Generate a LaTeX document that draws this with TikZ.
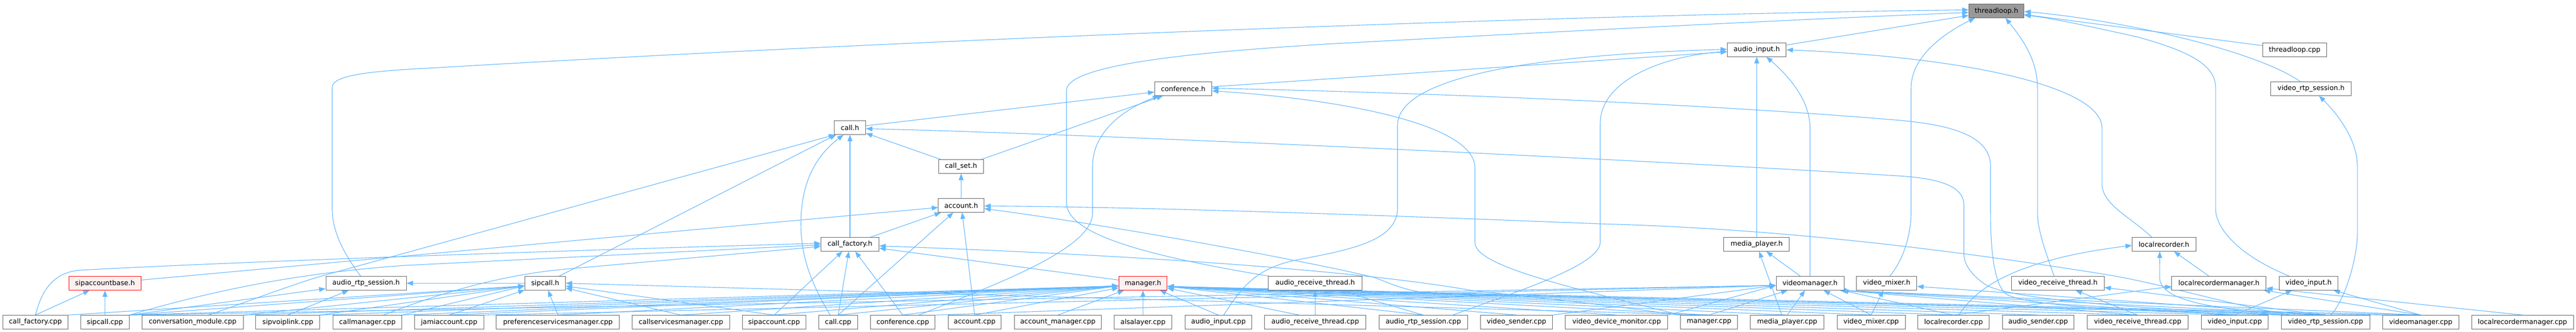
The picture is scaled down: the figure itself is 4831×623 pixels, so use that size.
\documentclass[tikz,border=0pt]{standalone}
\usepackage{fontspec}
\setmainfont{DejaVu Sans}
\usetikzlibrary{arrows.meta,calc}
\definecolor{edgec}{HTML}{63B8FF}
\definecolor{bordc}{HTML}{666666}
\definecolor{rootc}{HTML}{999999}
\definecolor{redfill}{HTML}{FFF0F0}
\pgfdeclarelayer{bglayer}
\pgfdeclarelayer{edgelayer}
\pgfsetlayers{bglayer,edgelayer,main}
\begin{document}
\begin{tikzpicture}[x=1pt,y=-1pt,
  box/.style={draw=bordc, fill=white, line width=1pt, minimum height=25.6pt, inner sep=0pt,
    font=\fontsize{12.8}{15}\selectfont, text=black},
  rootbox/.style={box, fill=rootc},
  redbox/.style={box, draw=red, fill=redfill},
  ed/.style={draw=edgec, line width=1.1pt, line join=round, -{Triangle[length=12pt,width=9pt]}}]
\useasboundingbox (0,0) rectangle (4831,623);
\begin{pgfonlayer}{bglayer}
\fill[white] (0,0) rectangle (4831,623);
\end{pgfonlayer}
% row 0
\node[rootbox, minimum width=103.4pt] (tlH) at (3744.1,20.5) {threadloop.h};
% row 1
\node[box, minimum width=110.7pt] (aiH) at (3294.55,93.5) {audio\_input.h};
\node[box, minimum width=119.1pt] (tlCpp) at (4303.45,93.5) {threadloop.cpp};
% row 2
\node[box, minimum width=107.1pt] (cfH) at (2219,166.5) {conference.h};
\node[box, minimum width=150.9pt] (vrsH) at (4334,166.5) {video\_rtp\_session.h};
% row 3
\node[box, minimum width=59pt] (callH) at (1594,239.5) {call.h};
% row 4
\node[box, minimum width=84.1pt] (csH) at (1802.4,312.5) {call\_set.h};
% row 5
\node[box, minimum width=85.5pt] (acH) at (1802.7,385.5) {account.h};
% row 6
\node[box, minimum width=109pt] (cfyH) at (1594,458.5) {call\_factory.h};
\node[box, minimum width=122.7pt] (mpH) at (3294.3,458.5) {media\_player.h};
\node[box, minimum width=119.6pt] (lrH) at (4058.3,458.5) {localrecorder.h};
% row 7
\node[redbox, minimum width=135pt] (sabH) at (197,531.5) {sipaccountbase.h};
\node[box, minimum width=151pt] (arsH) at (686.5,531.5) {audio\_rtp\_session.h};
\node[box, minimum width=76pt] (scH) at (1022.5,531.5) {sipcall.h};
\node[redbox, minimum width=90.4pt] (mgH) at (2143.5,531.5) {manager.h};
\node[box, minimum width=175.2pt] (artH) at (2466.4,531.5) {audio\_receive\_thread.h};
\node[box, minimum width=127pt] (vmH) at (3394.5,531.5) {videomanager.h};
\node[box, minimum width=113.2pt] (vmxH) at (3538.3,531.5) {video\_mixer.h};
\node[box, minimum width=173.6pt] (vrtH) at (3859.3,531.5) {video\_receive\_thread.h};
\node[box, minimum width=176.8pt] (lrmH) at (4161.3,531.5) {localrecordermanager.h};
\node[box, minimum width=110.6pt] (viH) at (4329.4,531.5) {video\_input.h};
% row 8
\node[box, minimum width=122.4pt] (c1) at (66.4,604.5) {call\_factory.cpp};
\node[box, minimum width=91pt] (c2) at (196.8,604.5) {sipcall.cpp};
\node[box, minimum width=189.6pt] (c3) at (361.3,604.5) {conversation\_module.cpp};
\node[box, minimum width=119.8pt] (c4) at (539.8,604.5) {sipvoiplink.cpp};
\node[box, minimum width=129.1pt] (c5) at (689,604.5) {callmanager.cpp};
\node[box, minimum width=129.7pt] (c6) at (842.3,604.5) {jamiaccount.cpp};
\node[box, minimum width=230.9pt] (c7) at (1046.3,604.5) {preferenceservicesmanager.cpp};
\node[box, minimum width=182.9pt] (c8) at (1277,604.5) {callservicesmanager.cpp};
\node[box, minimum width=118.4pt] (c9) at (1451.8,604.5) {sipaccount.cpp};
\node[box, minimum width=72.3pt] (c10) at (1571.9,604.5) {call.cpp};
\node[box, minimum width=121.4pt] (c11) at (1693.1,604.5) {conference.cpp};
\node[box, minimum width=99.7pt] (c12) at (1827.9,604.5) {account.cpp};
\node[box, minimum width=163.8pt] (c13) at (1983.9,604.5) {account\_manager.cpp};
\node[box, minimum width=108pt] (c14) at (2143.5,604.5) {alsalayer.cpp};
\node[box, minimum width=125.5pt] (c15) at (2285,604.5) {audio\_input.cpp};
\node[box, minimum width=189.7pt] (c16) at (2466.4,604.5) {audio\_receive\_thread.cpp};
\node[box, minimum width=166.3pt] (c17) at (2669.2,604.5) {audio\_rtp\_session.cpp};
\node[box, minimum width=134.8pt] (c18) at (2844,604.5) {video\_sender.cpp};
\node[box, minimum width=192.1pt] (c19) at (3031.8,604.5) {video\_device\_monitor.cpp};
\node[box, minimum width=107pt] (c20) at (3205.1,604.5) {manager.cpp};
\node[box, minimum width=137.4pt] (c21) at (3351.6,604.5) {media\_player.cpp};
\node[box, minimum width=128.2pt] (c22) at (3509.1,604.5) {video\_mixer.cpp};
\node[box, minimum width=133.3pt] (c23) at (3663.6,604.5) {localrecorder.cpp};
\node[box, minimum width=134.3pt] (c24) at (3822.2,604.5) {audio\_sender.cpp};
\node[box, minimum width=189.8pt] (c25) at (4008.9,604.5) {video\_receive\_thread.cpp};
\node[box, minimum width=125.5pt] (c26) at (4191,604.5) {video\_input.cpp};
\node[box, minimum width=166.4pt] (c27) at (4361.2,604.5) {video\_rtp\_session.cpp};
\node[box, minimum width=143pt] (c28) at (4539.8,604.5) {videomanager.cpp};
\node[box, minimum width=190.7pt] (c29) at (4730.6,604.5) {localrecordermanager.cpp};

\begin{pgfonlayer}{edgelayer}
% ---- threadloop.h
\draw[ed] (aiH) -- (tlH);
\draw[ed] (tlCpp) -- (tlH);
\draw[ed] ($(vrsH.north)+(-20,0)$) .. controls (4240,100) and (4000,40) .. ($(tlH.east)+(0,1)$);
\draw[ed] ($(vmxH.north)+(6,0)$) .. controls (3575,480) and (3584,430) .. (3584,399) -- (3584,165) .. controls (3584,100) and (3660,55) .. ($(tlH.south west)+(12,0)$);
\draw[ed] ($(vrtH.north)+(-7,0)$) .. controls (3835,470) and (3821,430) .. (3821,399) -- (3821,165) .. controls (3821,110) and (3790,70) .. ($(tlH.south)+(17,0)$);
\draw[ed] ($(viH.north)+(-36,0)$) .. controls (4200,480) and (4155,430) .. (4155,391) -- (4155,164) .. controls (4155,120) and (4100,95) .. (4011,70) .. controls (3900,45) and (3840,33) .. ($(tlH.east)+(0,8)$);
\draw[ed] ($(arsH.north)+(-10,0)$) .. controls (640,470) and (623,430) .. (623,391) -- (623,164) .. controls (623,140) and (700,133) .. (820,127) .. controls (1700,75) and (2900,28) .. ($(tlH.west)+(0,-2)$);
\draw[ed] ($(artH.north west)+(2,0)$) .. controls (2150,480) and (2000,440) .. (2000,380) -- (2000,170) .. controls (2000,125) and (2200,100) .. (2500,82) .. controls (3000,55) and (3400,35) .. ($(tlH.west)+(0,3)$);
% ---- audio_input.h
\draw[ed] (cfH) -- (aiH);
\draw[ed] (mpH) -- (aiH);
\draw[ed] (vmH.north) -- (3394.5,240) .. controls (3394.5,180) and (3340,130) .. ($(aiH.south)+(18,0)$);
\draw[ed] ($(lrH.north)+(-23,0)$) .. controls (4000,410) and (3942,385) .. (3942,345) -- (3942,240) .. controls (3942,165) and (3700,108) .. (aiH.east);
\draw[ed] ($(c15.north)+(10,0)$) .. controls (2325,545) and (2350,505) .. (2430,488) .. controls (2540,468) and (2621,450) .. (2621,390) -- (2621,235) .. controls (2621,160) and (2800,105) .. ($(aiH.west)+(0,-1)$);
\draw[ed] ($(c17.north east)+(-28,0)$) .. controls (2820,555) and (3001,500) .. (3001,455) -- (3001,232) .. controls (3001,150) and (3120,105) .. ($(aiH.west)+(0,3)$);
% ---- conference.h
\draw[ed] (callH) -- (cfH);
\draw[ed] (csH) -- (cfH);
\draw[ed] ($(c11.north)+(30,0)$) .. controls (1850,540) and (2049,470) .. (2049,400) -- (2049,312) .. controls (2049,240) and (2120,200) .. ($(cfH.south west)+(9,0)$);
\draw[ed] (c20.north west) .. controls (2950,540) and (2766,500) .. (2766,455) -- (2766,315) .. controls (2766,230) and (2500,185) .. ($(cfH.east)+(0,4)$);
\draw[ed] ($(c27.north west)+(10,0)$) .. controls (4100,588) and (3790,578) .. (3760,550) .. controls (3738,528) and (3733,460) .. (3733,400) -- (3733,312) .. controls (3733,255) and (3660,235) .. (3565,226) .. controls (3200,195) and (2700,175) .. ($(cfH.east)+(0,-1)$);
% ---- call.h
\draw[ed] (csH) -- (callH);
\draw[ed] (cfyH) -- (callH);
\draw[ed] (scH) -- (callH);
\draw[ed] ($(c3.north)+(30,0)$) .. controls (500,553) and (560,530) .. (610,516) -- ($(callH.south west)+(2,0)$);
\draw[ed] ($(c10.north)+(-15,0)$) .. controls (1520,530) and (1502,480) .. (1502,420) .. controls (1502,330) and (1540,285) .. ($(callH.south)+(-12,0)$);
\draw[ed] ($(c27.north west)+(2,0)$) .. controls (4100,582) and (3785,568) .. (3725,535) .. controls (3695,515) and (3683,495) .. (3683,475) -- (3683,385) .. controls (3683,350) and (3640,335) .. (3560,330) .. controls (3000,295) and (2000,250) .. ($(callH.east)+(0,2)$);
% ---- account.h, call_set.h
\draw[ed] (acH) -- (csH);
\draw[ed] (cfyH) -- (acH);
\draw[ed] (sabH) -- (acH);
\draw[ed] (c10.north) -- (acH);
\draw[ed] (c12.north) -- (acH);
\draw[ed] ($(c27.north west)+(16,0)$) .. controls (4150,565) and (4050,530) .. (3930,512) .. controls (3600,460) and (3300,428) .. (3000,420) .. controls (2500,400) and (2100,388) .. ($(acH.east)+(0,1)$);
\draw[ed] (c28.north west) .. controls (4000,582) and (3400,565) .. (2720,553) .. controls (2640,551) and (2610,532) .. (2575,520) .. controls (2450,490) and (2100,425) .. ($(acH.east)+(0,6)$);
% ---- call_factory.h
\draw[ed] (mgH) -- (cfyH);
\draw[ed] (c1.north) .. controls (75,560) and (90,512) .. (150,507) .. controls (500,488) and (1200,466) .. ($(cfyH.west)+(0,-2)$);
\draw[ed] (c2.north east) .. controls (400,545) and (560,512) .. (760,498) -- ($(cfyH.west)+(0,1)$);
\draw[ed] ($(c5.north)+(30,0)$) .. controls (800,560) and (920,518) .. (1060,505) -- ($(cfyH.west)+(0,4)$);
\draw[ed] (c9.north) -- (cfyH);
\draw[ed] (c10.north) -- (cfyH);
\draw[ed] (c11.north) -- (cfyH);
\draw[ed] ($(c20.north west)+(-3,0)$) .. controls (3000,570) and (2850,555) .. (2760,545) .. controls (2620,520) and (2300,485) .. ($(cfyH.east)+(0,3)$);
% ---- header to header, row 7/6
\draw[ed] (scH) -- (arsH);
\draw[ed] (vmH) -- (mpH);
\draw[ed] (lrmH) -- (lrH);
% ---- sipaccountbase.h
\draw[ed] (c1.north) -- (sabH);
\draw[ed] (c2.north) -- (sabH);
% ---- audio_rtp_session.h
\draw[ed] (c2.north east) -- (arsH);
\draw[ed] (c4.north) -- (arsH);
% ---- sipcall.h
\draw[ed] (c1.north east) -- ($(scH.west)+(0,5)$);
\draw[ed] (c2.north east) -- ($(scH.west)+(0,5)$);
\draw[ed] (c3.north east) -- ($(scH.west)+(0,5)$);
\draw[ed] (c4.north east) -- ($(scH.west)+(0,5)$);
\draw[ed] (c5.north east) -- ($(scH.west)+(0,5)$);
\draw[ed] (c6.north) -- (scH);
\draw[ed] (c7.north) -- (scH);
\draw[ed] (c8.north) -- (scH);
\draw[ed] (c9.north) -- (scH);
\draw[ed] (c20.north) -- (scH.east);
% ---- manager.h
\foreach \c in {c2,c3,c4,c5}{\draw[ed] (\c.north east) -- ($(mgH.west)+(0,5)$);}
\foreach \c in {c6,c7,c8,c9,c10,c11}{\draw[ed] (\c.north) -- ($(mgH.west)+(0,5)$);}
\foreach \c in {c12,c13,c14,c15}{\draw[ed] (\c.north) -- (mgH);}
\draw[ed] ($(c16.north)+(-30,0)$) -- (mgH);
\foreach \c in {c17,c18,c19,c20,c21,c22,c23,c24,c25,c26,c27,c28}{\draw[ed] (\c.north) -- ($(mgH.east)+(0,6)$);}
% ---- audio_receive_thread.h
\draw[ed] (c16.north) -- (artH);
\draw[ed] (c17.north) -- (artH);
% ---- videomanager.h
\foreach \c in {c2,c6,c11,c18,c19}{\draw[ed] (\c.north east) -- ($(vmH.west)+(0,4)$);}
\foreach \c in {c20,c21,c22,c23}{\draw[ed] (\c.north) -- (vmH);}
\foreach \c in {c25,c26,c27,c28}{\draw[ed] (\c.north) -- ($(vmH.south east)+(-8,0)$);}
% ---- media_player.h
\draw[ed] ($(c21.north)+(-10,0)$) -- (mpH);
% ---- video_mixer.h
\draw[ed] (c22.north) -- (vmxH);
\draw[ed] (c27.north) -- ($(vmxH.east)+(0,6)$);
% ---- video_receive_thread.h
\draw[ed] (c25.north) -- (vrtH);
\draw[ed] (c27.north) -- ($(vrtH.east)+(0,8)$);
% ---- localrecorder.h
\draw[ed] ($(c23.north)+(10,0)$) .. controls (3700,550) and (3760,490) .. ($(lrH.west)+(0,2)$);
\draw[ed] ($(c27.north west)+(5,0)$) .. controls (4150,578) and (4050,565) .. (4050,520) -- ($(lrH.south)+(-8,0)$);
% ---- localrecordermanager.h
\draw[ed] (c23.north) -- ($(lrmH.west)+(0,6)$);
\draw[ed] (c28.north) -- (lrmH);
\draw[ed] (c29.north) -- (lrmH);
% ---- video_input.h
\draw[ed] (c26.north) -- (viH);
\draw[ed] (c28.north) -- (viH);
% ---- video_rtp_session.h
\draw[ed] ($(c27.north)+(10,0)$) .. controls (4400,560) and (4421,480) .. (4421,439) -- (4421,312) .. controls (4421,260) and (4380,210) .. ($(vrsH.south)+(15,0)$);
\end{pgfonlayer}
\end{tikzpicture}
\end{document}
